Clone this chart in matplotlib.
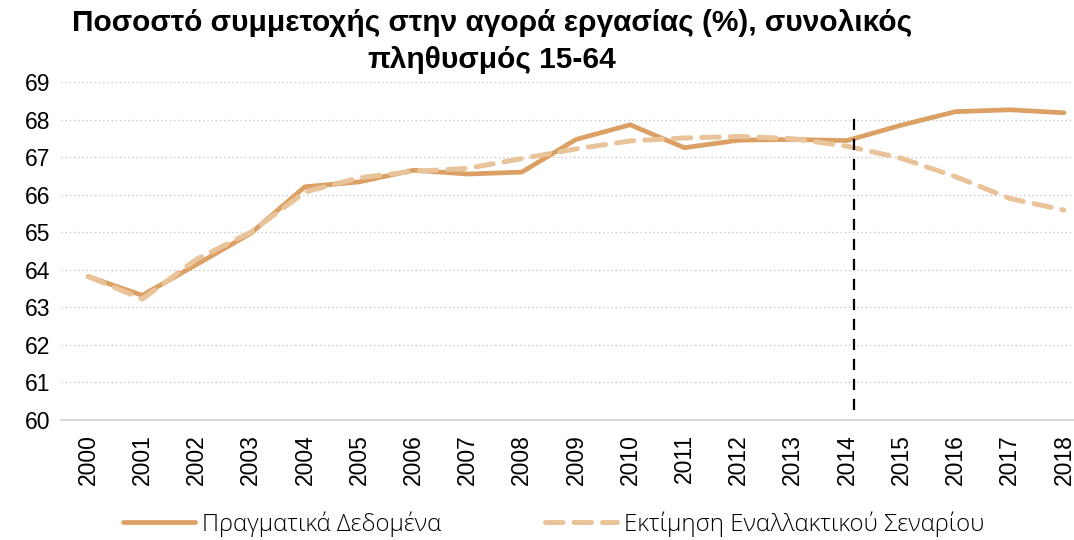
import matplotlib
matplotlib.use("Agg")
import matplotlib.pyplot as plt
import numpy as np

years = ["2000", "2001", "2002", "2003", "2004", "2005", "2006", "2007", "2008", "2009",
         "2010", "2011", "2012", "2013", "2014", "2015", "2016", "2017", "2018"]
actual = [63.82, 63.32, 64.14, 64.97, 66.21, 66.34, 66.65, 66.55, 66.60, 67.47,
          67.86, 67.25, 67.45, 67.47, 67.44, 67.85, 68.21, 68.26, 68.18]
scenario = [63.82, 63.22, 64.28, 65.00, 66.07, 66.45, 66.62, 66.70, 66.96, 67.22,
            67.43, 67.51, 67.55, 67.49, 67.29, 66.97, 66.48, 65.90, 65.59]
yticks = [60, 61, 62, 63, 64, 65, 66, 67, 68, 69]
title = "Ποσοστό συμμετοχής στην αγορά εργασίας (%), συνολικός\nπληθυσμός 15-64"
label_actual = "Πραγματικά Δεδομένα"
label_scen = "Εκτίμηση Εναλλακτικού Σεναρίου"
split_year = "2014"

plt.rcParams['font.family'] = ['Liberation Sans', 'DejaVu Sans']

fig = plt.figure(figsize=(10.74, 5.40), dpi=100)
ax = fig.add_axes([61/1074, 1-420/540, 1030/1074, 338/540])

x = np.arange(len(years))
c_act = "#DCA064"
c_scn = "#E9C39A"
ax.plot(x, scenario, color=c_scn, lw=3.6, ls=(0, (3.5, 2.2)), dash_capstyle='round',
        solid_capstyle='round', label=label_scen, zorder=3)
ax.plot(x, actual, color=c_act, lw=3.4, solid_capstyle='round', label=label_actual, zorder=2)

xi = years.index(split_year) + 0.12
ax.vlines(xi, 60.27, 68.2, colors='black', linestyles=(0, (5, 4)), lw=1.6, zorder=4)

ax.set_xlim(-0.5, len(years) - 0.5)
ax.set_ylim(60, 69)
ax.set_yticks(yticks)
ax.set_yticklabels([str(v) for v in yticks], fontsize=16.5)
ax.set_xticks(x)
ax.set_xticklabels(years, rotation=90, fontsize=16.5)
ax.tick_params(axis='x', length=0, pad=10, colors='black')
ax.tick_params(axis='y', length=0, pad=8, colors='black')
for s in ['top', 'right', 'left']:
    ax.spines[s].set_visible(False)
ax.spines['bottom'].set_color('#d9d9d9')
ax.spines['bottom'].set_linewidth(1.5)
ax.grid(axis='y', color='#c8c8c8', ls=(0, (1, 2)), lw=1)
ax.set_axisbelow(True)
for yl in ax.get_ygridlines():
    if abs(yl.get_ydata()[0] - 60) < 1e-6:
        yl.set_visible(False)

fig.text(492/1074, 1-9/540, title, ha='center', va='top', fontsize=21.5,
         fontweight='bold', linespacing=1.42)

h, l = ax.get_legend_handles_labels()
leg = fig.legend([h[1], h[0]], [l[1], l[0]], loc='center', ncol=2,
                 bbox_to_anchor=(554/1074, 1-524/540), frameon=False,
                 prop={'family': ['Open Sans', 'DejaVu Sans'], 'weight': 'light', 'size': 17.3},
                 handlelength=3.0, columnspacing=4.3, handletextpad=0.3)

fig.savefig("out.png", dpi=100)
